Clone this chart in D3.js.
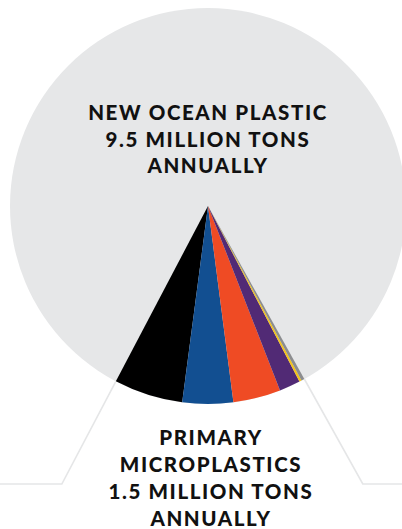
<!DOCTYPE html>
<html>
<head>
<meta charset="utf-8">
<script src="https://cdn.jsdelivr.net/npm/d3@7"></script>
<style>
  html, body { margin: 0; padding: 0; background: #fff; }
  svg { display: block; }
  text { font-family: Lato, "DejaVu Sans", sans-serif; font-weight: 900; fill: #111; }
</style>
</head>
<body>
<svg id="chart"></svg>
<script>
const width = 402;
const height = 529;

// data: total ocean plastic vs primary microplastics (million tons / year)
const totalTons = 9.5;
const primaryTons = 1.5;
// primary microplastics breakdown, share in % (read from the wedge)
const sources = ['Synthetic textiles', 'Tyres', 'City dust', 'Road markings & coatings', 'Personal care', 'Pellets'];
const shares = [35.4, 26, 24.4, 10.8, 1.2, 1.6];
const colors = ['#000000', '#124f91', '#ef4b24', '#512a75', '#f4c41b', '#8c8d8f'];

const topLabel = ['NEW OCEAN PLASTIC', '9.5 MILLION TONS', 'ANNUALLY'];
const bottomLabel = ['PRIMARY', 'MICROPLASTICS', '1.5 MILLION TONS', 'ANNUALLY'];

const cx = 208, cy = 206, r = 198;

const svg = d3.select('#chart')
    .attr('width', width)
    .attr('height', height);

// wedge angle = part of the full circle, centred on the bottom
const wedge = 2 * Math.PI * primaryTons / totalTons;
const mid = Math.PI - 0.012;
const startA = mid + wedge / 2;   // left side
const endA = mid - wedge / 2;     // right side

// leader lines: extend the wedge edges then go out horizontally
const lineY = 484;
function leader(a, toX) {
    const dx = Math.sin(a), dy = -Math.cos(a);
    const x0 = cx + dx * r, y0 = cy + dy * r;
    const t = (lineY - cy) / dy;
    const x1 = cx + dx * t;
    return [[x0, y0], [x1, lineY], [toX, lineY]];
}
const line = d3.line();
svg.append('path')
    .attr('d', line(leader(startA, 0)))
    .attr('fill', 'none')
    .attr('stroke', '#e5e6e7')
    .attr('stroke-width', 1.6);
svg.append('path')
    .attr('d', line(leader(endA, width)))
    .attr('fill', 'none')
    .attr('stroke', '#e5e6e7')
    .attr('stroke-width', 1.6);

// big circle
svg.append('circle')
    .attr('cx', cx)
    .attr('cy', cy)
    .attr('r', r)
    .attr('fill', '#e6e7e8');

// wedge slices
const pie = d3.pie().sort(null).startAngle(startA).endAngle(endA);
const arc = d3.arc().innerRadius(0).outerRadius(r);

svg.append('g')
    .attr('transform', `translate(${cx},${cy})`)
    .selectAll('path')
    .data(pie(shares))
    .enter()
    .append('path')
    .attr('d', arc)
    .attr('fill', (d, i) => colors[i]);

// labels
svg.append('text')
    .attr('text-anchor', 'middle')
    .style('font-size', '20.5px')
    .style('letter-spacing', '1.6px')
    .selectAll('tspan')
    .data(topLabel)
    .enter()
    .append('tspan')
    .attr('x', 208)
    .attr('y', (d, i) => 120 + i * 26.5)
    .text(d => d);

svg.append('text')
    .attr('text-anchor', 'middle')
    .style('font-size', '20.5px')
    .style('letter-spacing', '1.6px')
    .selectAll('tspan')
    .data(bottomLabel)
    .enter()
    .append('tspan')
    .attr('x', 211)
    .attr('y', (d, i) => 445 + i * 27)
    .text(d => d);
</script>
</body>
</html>
